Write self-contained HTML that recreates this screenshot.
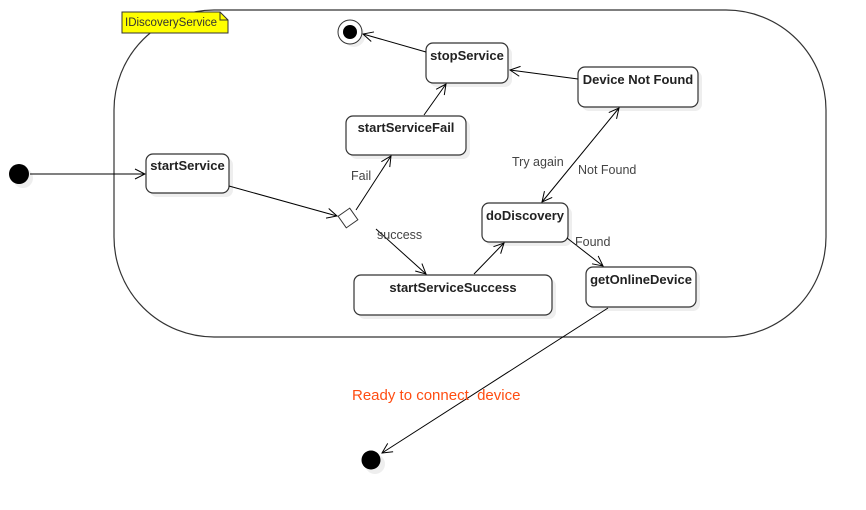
<!DOCTYPE html>
<html><head><meta charset="utf-8"><style>
html,body{margin:0;padding:0;background:#fff;width:866px;height:510px;overflow:hidden}
text{font-family:"Liberation Sans",sans-serif}
</style></head><body>
<svg width="866" height="510" viewBox="0 0 866 510" xmlns="http://www.w3.org/2000/svg">
<defs>
<marker id="a" viewBox="0 0 12 12" refX="11" refY="6" markerWidth="12" markerHeight="12" orient="auto" markerUnits="userSpaceOnUse">
<path d="M1,1 L11,6 L1,11" fill="none" stroke="#000" stroke-width="1"/></marker>
<marker id="as" viewBox="0 0 12 12" refX="1" refY="6" markerWidth="12" markerHeight="12" orient="auto" markerUnits="userSpaceOnUse">
<path d="M11,1 L1,6 L11,11" fill="none" stroke="#000" stroke-width="1"/></marker>
</defs>
<rect x="114" y="10" width="712" height="327" rx="100" ry="100" fill="#fff" stroke="#333" stroke-width="1.2"/>
<g fill="#eee">
<rect x="150" y="158" width="83" height="39" rx="7"/>
<rect x="350" y="120" width="120" height="39" rx="7"/>
<rect x="430" y="47" width="82" height="40" rx="7"/>
<rect x="582" y="71" width="120" height="40" rx="7"/>
<rect x="486" y="207" width="86" height="39" rx="7"/>
<rect x="358" y="279" width="198" height="40" rx="7"/>
<rect x="590" y="271" width="110" height="40" rx="7"/>
<circle cx="23" cy="178" r="10"/><circle cx="375" cy="464" r="10"/><circle cx="354" cy="36" r="11"/>
</g>
<g fill="#fff" stroke="#333" stroke-width="1.2">
<rect x="146" y="154" width="83" height="39" rx="7"/>
<rect x="346" y="116" width="120" height="39" rx="7"/>
<rect x="426" y="43" width="82" height="40" rx="7"/>
<rect x="578" y="67" width="120" height="40" rx="7"/>
<rect x="482" y="203" width="86" height="39" rx="7"/>
<rect x="354" y="275" width="198" height="40" rx="7"/>
<rect x="586" y="267" width="110" height="40" rx="7"/>
</g>
<g font-size="13" font-weight="bold" text-anchor="middle" fill="#222">
<text x="187.5" y="170">startService</text>
<text x="406" y="132">startServiceFail</text>
<text x="467" y="60">stopService</text>
<text x="638" y="84">Device Not Found</text>
<text x="525" y="220">doDiscovery</text>
<text x="453" y="292">startServiceSuccess</text>
<text x="641" y="284">getOnlineDevice</text>
</g>
<path d="M122,12 H220 L228,20 V33 H122 Z" fill="#ffff00" stroke="#333"/>
<path d="M220,12 V20 H228" fill="none" stroke="#333"/>
<text x="125" y="26" font-size="11.5" fill="#333">IDiscoveryService</text>
<circle cx="19" cy="174" r="10" fill="#000"/>
<circle cx="371" cy="460" r="9.5" fill="#000"/>
<circle cx="350" cy="32" r="12" fill="#fff" stroke="#333"/>
<circle cx="350" cy="32" r="7" fill="#000"/>
<path d="M348,208 L358,218 L348,228 L338,218 Z" transform="rotate(10 348 218)" fill="#fff" stroke="#333"/>
<g stroke="#000" stroke-width="1" fill="none">
<line x1="30" y1="174" x2="145" y2="174" marker-end="url(#a)"/>
<line x1="229" y1="186" x2="337" y2="216" marker-end="url(#a)"/>
<line x1="356" y1="210" x2="391" y2="156" marker-end="url(#a)"/>
<line x1="376" y1="229" x2="426" y2="274" marker-end="url(#a)"/>
<line x1="424" y1="115" x2="446" y2="84" marker-end="url(#a)"/>
<line x1="426" y1="52" x2="363" y2="34" marker-end="url(#a)"/>
<line x1="578" y1="79" x2="510" y2="70" marker-end="url(#a)"/>
<line x1="542" y1="202" x2="619" y2="108" marker-end="url(#a)" marker-start="url(#as)"/>
<line x1="474" y1="274" x2="504" y2="243" marker-end="url(#a)"/>
<line x1="567" y1="238" x2="603" y2="266" marker-end="url(#a)"/>
<line x1="608" y1="308" x2="382" y2="453" marker-end="url(#a)"/>
</g>
<g font-size="12.5" fill="#444">
<text x="351" y="180">Fail</text>
<text x="377" y="239">success</text>
<text x="512" y="166">Try again</text>
<text x="578" y="174">Not Found</text>
<text x="575" y="246">Found</text>
</g>
<text x="352" y="400" font-size="15" fill="#ff4d12" style="white-space:pre" xml:space="preserve">Ready to connect  device</text>
</svg>
</body></html>
